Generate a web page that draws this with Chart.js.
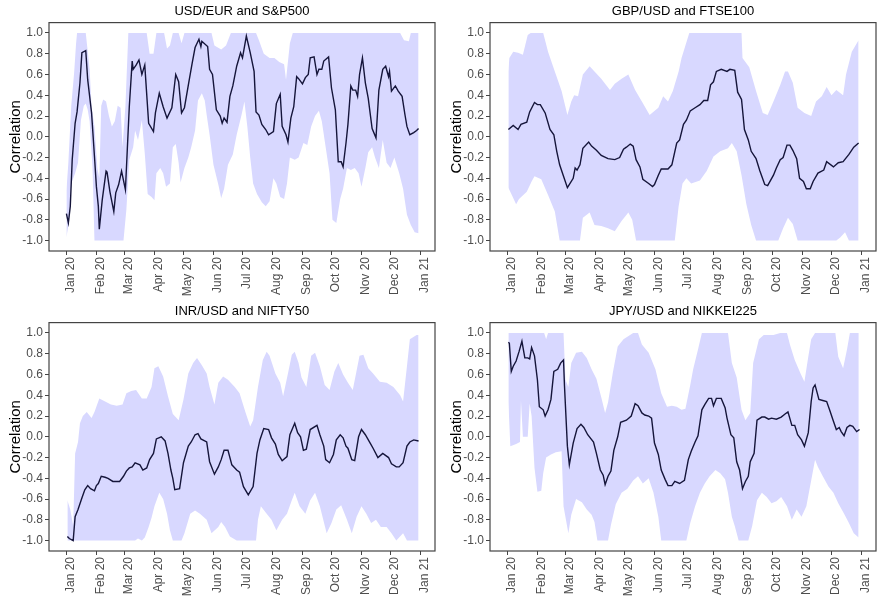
<!DOCTYPE html>
<html>
<head>
<meta charset="utf-8">
<script src="https://cdn.jsdelivr.net/npm/chart.js@4.4.0/dist/chart.umd.min.js"></script>
<style>
  body { margin: 0; background: #fff; }
  #grid { display: grid; grid-template-columns: 441px 441px; grid-template-rows: 300px 300px; width: 882px; height: 600px; }
  canvas { display: block; }
</style>
</head>
<body>
<div id="grid">
  <canvas id="c1" width="441" height="300"></canvas>
  <canvas id="c2" width="441" height="300"></canvas>
  <canvas id="c3" width="441" height="300"></canvas>
  <canvas id="c4" width="441" height="300"></canvas>
</div>
<script>
// Axis labels: day of year 2020 where each month starts
const monthStartDays = [0, 31, 60, 91, 121, 152, 182, 213, 244, 274, 305, 335, 366];
const monthLabels = ['Jan 20', 'Feb 20', 'Mar 20', 'Apr 20', 'May 20', 'Jun 20', 'Jul 20', 'Aug 20', 'Sep 20', 'Oct 20', 'Nov 20', 'Dec 20', 'Jan 21'];
const yTicks = [-1.0, -0.8, -0.6, -0.4, -0.2, 0.0, 0.2, 0.4, 0.6, 0.8, 1.0];

const titles = ['USD/EUR and S&P500', 'GBP/USD and FTSE100', 'INR/USD and NIFTY50', 'JPY/USD and NIKKEI225'];

// [day, correlation]
const usdEurCorr = [[0,-0.74],[2,-0.83],[4,-0.67],[6,-0.22],[9,0.13],[11,0.24],[14,0.52],[16,0.81],[20,0.83],[22,0.55],[26,0.23],[29,-0.19],[31,-0.48],[33,-0.67],[34,-0.89],[37,-0.61],[41,-0.33],[42,-0.34],[45,-0.53],[49,-0.72],[51,-0.54],[54,-0.46],[57,-0.33],[61,-0.51],[65,0.29],[68,0.73],[69,0.65],[72,0.69],[75,0.74],[78,0.60],[81,0.69],[85,0.13],[90,0.05],[92,0.23],[96,0.42],[100,0.29],[104,0.18],[109,0.28],[113,0.60],[116,0.53],[119,0.23],[122,0.28],[127,0.55],[130,0.71],[133,0.86],[137,0.94],[139,0.87],[140,0.92],[146,0.87],[148,0.65],[151,0.60],[155,0.26],[159,0.20],[161,0.13],[163,0.18],[166,0.14],[169,0.39],[172,0.49],[176,0.68],[180,0.81],[182,0.76],[186,0.97],[190,0.81],[194,0.63],[196,0.24],[199,0.21],[202,0.12],[206,0.07],[209,0.02],[214,0.05],[217,0.32],[221,0.41],[223,0.10],[227,0.02],[229,-0.05],[232,0.18],[235,0.29],[238,0.58],[240,0.56],[244,0.51],[247,0.57],[250,0.60],[252,0.76],[256,0.77],[259,0.60],[261,0.65],[264,0.65],[266,0.73],[271,0.77],[274,0.47],[278,0.26],[281,-0.24],[284,-0.24],[286,-0.29],[289,-0.06],[291,0.12],[294,0.49],[296,0.45],[299,0.45],[301,0.39],[303,0.60],[306,0.76],[309,0.52],[312,0.37],[316,0.08],[320,-0.01],[323,0.45],[327,0.65],[330,0.68],[333,0.58],[334,0.63],[336,0.44],[340,0.49],[343,0.44],[347,0.39],[350,0.21],[352,0.10],[355,0.02],[359,0.04],[362,0.06],[364,0.08]];
const usdEurUpper = [[0,-0.52],[2,-0.25],[5,0.3],[8,0.62],[10,0.9],[11,1.0],[20,1.0],[24,0.65],[26,0.29],[29,0.1],[32,-0.3],[34,-0.4],[36,0.3],[38,0.36],[41,0.34],[44,0.2],[47,0.1],[50,0.15],[53,0.3],[56,0.28],[58,-0.1],[61,0.3],[64,1.0],[83,1.0],[86,0.8],[90,0.8],[93,1.0],[101,1.0],[104,0.85],[107,0.88],[110,1.0],[116,1.0],[119,0.9],[122,1.0],[150,1.0],[153,0.88],[160,0.84],[165,0.88],[170,1.0],[196,1.0],[199,0.93],[204,0.8],[210,0.76],[215,0.76],[220,0.72],[225,0.7],[227,0.55],[231,0.9],[234,1.0],[345,1.0],[349,0.93],[354,0.92],[356,1.0],[364,1.0]];
const usdEurLower = [[0,-0.97],[3,-0.8],[5,-0.45],[9,-0.35],[12,-0.25],[15,0.16],[18,0.3],[20,0.32],[22,0.26],[24,0.15],[27,-0.3],[29,-1.0],[59,-1.0],[62,-0.7],[65,-0.22],[69,-0.1],[71,0.06],[74,-0.03],[78,0.16],[81,-0.16],[84,-0.55],[88,-0.58],[91,-0.61],[93,-0.35],[97,-0.3],[100,-0.35],[103,-0.48],[107,-0.45],[110,-0.1],[113,-0.07],[116,-0.25],[118,-0.44],[122,-0.3],[126,-0.2],[129,-0.1],[133,0.06],[136,0.35],[140,0.42],[143,0.35],[145,0.21],[148,0.02],[152,-0.27],[157,-0.46],[160,-0.59],[163,-0.5],[167,-0.27],[172,-0.17],[176,0.02],[181,0.21],[184,0.34],[187,0.1],[190,-0.2],[193,-0.45],[197,-0.55],[202,-0.63],[206,-0.67],[210,-0.62],[214,-0.4],[217,-0.45],[221,-0.58],[225,-0.6],[228,-0.45],[231,-0.2],[236,-0.22],[240,-0.2],[245,-0.06],[249,-0.08],[253,0.1],[257,0.2],[261,0.25],[264,0.15],[268,-0.1],[272,-0.35],[275,-0.8],[279,-0.83],[283,-0.6],[286,-0.5],[290,-0.3],[294,-0.32],[298,-0.3],[302,-0.35],[305,-0.48],[309,-0.3],[312,-0.15],[316,-0.1],[319,-0.2],[323,-0.3],[327,-0.03],[331,-0.25],[335,-0.3],[339,-0.2],[344,-0.35],[348,-0.5],[352,-0.75],[356,-0.85],[360,-0.92],[364,-0.93]];

const gbpUsdCorr = [[1,0.07],[6,0.11],[11,0.07],[14,0.12],[20,0.14],[23,0.24],[28,0.33],[31,0.31],[34,0.31],[39,0.23],[44,0.07],[48,0.02],[51,-0.14],[54,-0.27],[58,-0.38],[62,-0.49],[68,-0.4],[70,-0.3],[72,-0.32],[75,-0.27],[78,-0.11],[84,-0.05],[87,-0.09],[92,-0.13],[97,-0.18],[104,-0.21],[111,-0.22],[116,-0.2],[120,-0.12],[123,-0.1],[127,-0.07],[130,-0.09],[133,-0.22],[137,-0.29],[140,-0.41],[146,-0.45],[150,-0.48],[152,-0.46],[156,-0.37],[159,-0.31],[166,-0.31],[170,-0.27],[175,-0.06],[178,-0.03],[182,0.12],[185,0.16],[189,0.25],[194,0.28],[199,0.31],[203,0.35],[207,0.35],[210,0.5],[213,0.53],[216,0.63],[221,0.65],[227,0.63],[230,0.65],[235,0.64],[238,0.43],[242,0.36],[245,0.07],[249,-0.03],[252,-0.14],[257,-0.21],[261,-0.33],[266,-0.46],[269,-0.47],[275,-0.37],[278,-0.3],[282,-0.22],[285,-0.2],[289,-0.08],[292,-0.08],[295,-0.13],[299,-0.21],[302,-0.4],[306,-0.43],[309,-0.5],[313,-0.5],[316,-0.43],[321,-0.35],[327,-0.32],[330,-0.24],[337,-0.29],[342,-0.25],[347,-0.24],[353,-0.17],[358,-0.1],[363,-0.06]];
const gbpUsdUpper = [[1,0.63],[2,0.76],[6,0.82],[11,0.81],[16,0.79],[21,0.98],[24,1.0],[37,1.0],[42,0.82],[49,0.63],[56,0.44],[62,0.21],[66,0.34],[69,0.4],[73,0.39],[78,0.6],[85,0.68],[90,0.63],[97,0.56],[106,0.45],[111,0.51],[118,0.56],[125,0.6],[132,0.45],[139,0.34],[147,0.21],[156,0.28],[161,0.39],[166,0.34],[171,0.44],[177,0.63],[180,0.76],[184,0.88],[188,1.0],[242,1.0],[243,0.76],[250,0.67],[257,0.44],[264,0.23],[269,0.21],[275,0.34],[282,0.5],[287,0.63],[290,0.63],[295,0.52],[300,0.28],[307,0.23],[314,0.2],[319,0.34],[325,0.39],[330,0.48],[335,0.4],[340,0.45],[347,0.4],[350,0.6],[356,0.82],[363,0.93]];
const gbpUsdLower = [[1,-0.49],[6,-0.59],[9,-0.65],[12,-0.6],[20,-0.53],[25,-0.43],[28,-0.38],[35,-0.41],[42,-0.56],[49,-0.72],[54,-1.0],[75,-1.0],[78,-0.78],[85,-0.73],[90,-0.85],[97,-0.86],[104,-0.88],[111,-0.91],[118,-0.81],[125,-0.73],[129,-0.8],[133,-1.0],[173,-1.0],[177,-0.67],[181,-0.45],[185,-0.4],[190,-0.45],[199,-0.42],[206,-0.33],[213,-0.19],[220,-0.14],[228,-0.11],[232,-0.06],[237,-0.14],[242,-0.37],[247,-0.65],[252,-0.85],[257,-1.0],[280,-1.0],[285,-0.88],[290,-0.78],[295,-0.84],[300,-1.0],[340,-1.0],[344,-0.97],[349,-0.92],[353,-1.0],[364,-1.0]];

const inrUsdCorr = [[1,-0.96],[3,-0.98],[7,-1.0],[9,-0.77],[12,-0.7],[16,-0.59],[19,-0.51],[22,-0.47],[25,-0.5],[29,-0.52],[31,-0.47],[33,-0.45],[36,-0.38],[40,-0.39],[43,-0.4],[48,-0.43],[55,-0.43],[59,-0.38],[62,-0.33],[65,-0.3],[68,-0.29],[71,-0.25],[76,-0.27],[79,-0.32],[83,-0.3],[86,-0.22],[90,-0.16],[93,-0.02],[98,0.0],[102,-0.04],[105,-0.16],[108,-0.32],[110,-0.4],[112,-0.51],[117,-0.5],[121,-0.25],[126,-0.09],[129,-0.05],[133,0.02],[136,0.03],[139,-0.02],[145,-0.05],[148,-0.24],[153,-0.36],[157,-0.29],[160,-0.22],[163,-0.13],[167,-0.13],[171,-0.27],[176,-0.32],[179,-0.34],[183,-0.48],[188,-0.56],[193,-0.48],[197,-0.16],[200,-0.03],[204,0.08],[209,0.07],[212,-0.01],[216,-0.07],[219,-0.17],[223,-0.23],[228,-0.19],[231,0.02],[236,0.13],[239,0.04],[242,0.0],[245,-0.13],[248,-0.12],[252,0.07],[259,0.11],[262,0.02],[266,-0.09],[268,-0.22],[272,-0.25],[276,-0.17],[279,-0.03],[283,0.02],[286,-0.01],[289,-0.09],[291,-0.11],[295,-0.22],[298,-0.23],[302,0.0],[305,0.07],[309,0.02],[314,-0.06],[317,-0.11],[322,-0.2],[327,-0.16],[333,-0.2],[336,-0.26],[341,-0.29],[344,-0.29],[348,-0.25],[352,-0.09],[355,-0.05],[359,-0.03],[364,-0.04]];
const inrUsdUpper = [[1,-0.61],[4,-0.7],[7,-0.86],[9,-0.16],[12,-0.05],[14,0.13],[17,0.2],[21,0.24],[26,0.18],[29,0.24],[34,0.37],[40,0.34],[46,0.31],[52,0.3],[58,0.31],[62,0.42],[67,0.44],[72,0.45],[78,0.37],[83,0.37],[88,0.48],[91,0.66],[95,0.68],[100,0.58],[105,0.39],[110,0.22],[116,0.16],[121,0.36],[126,0.61],[131,0.71],[135,0.76],[140,0.69],[145,0.61],[148,0.48],[153,0.31],[157,0.52],[162,0.58],[167,0.55],[174,0.48],[179,0.42],[185,0.24],[190,0.1],[193,0.16],[198,0.48],[203,0.74],[207,0.82],[210,0.78],[216,0.61],[221,0.52],[224,0.39],[229,0.61],[233,0.79],[236,0.82],[240,0.71],[243,0.57],[248,0.48],[253,0.78],[257,0.81],[262,0.68],[267,0.5],[272,0.45],[277,0.63],[281,0.71],[286,0.6],[291,0.52],[296,0.45],[303,0.78],[307,0.79],[312,0.66],[317,0.61],[324,0.53],[331,0.52],[338,0.48],[345,0.4],[348,0.34],[352,0.68],[355,0.94],[362,0.98],[364,0.98]];
const inrUsdLower = [[1,-1.0],[71,-1.0],[74,-0.98],[78,-1.0],[81,-0.97],[85,-0.87],[88,-0.78],[91,-0.67],[96,-0.54],[100,-0.6],[104,-0.74],[107,-0.9],[110,-1.0],[119,-1.0],[122,-0.93],[128,-0.74],[133,-0.71],[138,-0.74],[145,-0.8],[150,-0.93],[157,-0.87],[160,-0.82],[164,-0.87],[169,-0.96],[176,-1.0],[196,-1.0],[198,-0.8],[201,-0.67],[207,-0.74],[212,-0.8],[217,-0.9],[223,-0.8],[228,-0.74],[233,-0.61],[236,-0.54],[241,-0.67],[247,-0.74],[252,-0.61],[257,-0.54],[262,-0.67],[269,-0.93],[274,-0.83],[279,-0.7],[284,-0.66],[290,-0.8],[295,-0.93],[300,-0.77],[305,-0.67],[310,-0.74],[315,-0.83],[320,-0.8],[325,-0.87],[331,-0.87],[336,-0.93],[341,-1.0],[348,-0.93],[352,-1.0],[364,-1.0]];

const jpyUsdCorr = [[1,0.91],[2,0.9],[4,0.63],[6,0.68],[9,0.73],[12,0.82],[15,0.92],[18,0.76],[21,0.76],[23,0.75],[25,0.86],[28,0.78],[31,0.55],[33,0.29],[37,0.26],[39,0.2],[42,0.26],[45,0.36],[48,0.63],[52,0.65],[55,0.71],[58,0.74],[59,0.49],[62,-0.09],[64,-0.27],[68,-0.06],[72,0.08],[76,0.12],[79,0.09],[83,0.02],[89,-0.05],[92,-0.16],[96,-0.32],[99,-0.37],[101,-0.46],[104,-0.38],[107,-0.33],[110,-0.13],[114,0.0],[117,0.14],[123,0.16],[128,0.2],[132,0.32],[135,0.3],[139,0.23],[142,0.21],[146,0.2],[149,0.18],[152,-0.06],[156,-0.17],[159,-0.32],[163,-0.41],[166,-0.47],[170,-0.47],[173,-0.43],[178,-0.45],[183,-0.42],[187,-0.22],[190,-0.14],[194,-0.05],[197,0.01],[201,0.26],[204,0.31],[208,0.37],[211,0.37],[213,0.3],[216,0.37],[221,0.37],[225,0.28],[227,0.18],[231,0.02],[234,-0.01],[237,-0.24],[240,-0.32],[243,-0.5],[246,-0.43],[249,-0.38],[251,-0.24],[255,-0.16],[258,0.16],[263,0.19],[266,0.19],[270,0.17],[273,0.18],[278,0.17],[283,0.19],[287,0.22],[290,0.24],[294,0.11],[297,0.11],[300,0.02],[304,-0.03],[307,-0.09],[311,0.04],[314,0.34],[316,0.47],[318,0.5],[322,0.36],[326,0.35],[330,0.34],[333,0.26],[337,0.15],[340,0.07],[343,0.09],[345,0.05],[348,0.01],[351,0.09],[354,0.11],[357,0.1],[361,0.05],[364,0.07]];
const jpyUsdUpper = [[1,1.0],[38,1.0],[40,0.94],[42,1.0],[58,1.0],[60,0.55],[63,0.48],[66,0.71],[71,0.81],[77,0.82],[82,0.76],[87,0.65],[92,0.56],[97,0.38],[101,0.23],[104,0.33],[109,0.62],[114,0.87],[120,0.94],[130,1.0],[135,1.0],[139,0.89],[146,0.81],[153,0.65],[159,0.42],[165,0.29],[170,0.3],[175,0.29],[180,0.26],[184,0.27],[189,0.5],[192,0.65],[197,0.84],[201,1.0],[228,1.0],[232,0.71],[237,0.57],[242,0.26],[246,0.16],[251,0.23],[254,0.71],[260,0.94],[265,0.98],[275,0.98],[282,1.0],[289,1.0],[292,0.89],[297,0.74],[303,0.61],[307,0.53],[311,0.77],[314,0.94],[318,1.0],[339,1.0],[342,0.77],[347,0.66],[351,0.84],[354,1.0],[364,1.0]];
const jpyUsdLower = [[1,0.34],[3,-0.09],[9,-0.07],[13,-0.05],[14,0.35],[16,0.0],[21,0.0],[23,0.32],[25,0.2],[28,-0.3],[31,-0.53],[35,-0.52],[37,-0.35],[40,-0.2],[45,-0.17],[50,-0.15],[56,-0.14],[58,-0.67],[63,-0.93],[66,-0.75],[71,-0.6],[77,-0.63],[82,-0.7],[87,-0.75],[90,-0.82],[93,-1.0],[104,-1.0],[107,-0.85],[112,-0.65],[118,-0.54],[124,-0.5],[130,-0.42],[135,-0.38],[140,-0.45],[146,-0.4],[151,-0.54],[156,-0.77],[159,-1.0],[185,-1.0],[189,-0.83],[194,-0.67],[199,-0.54],[204,-0.45],[209,-0.38],[215,-0.32],[220,-0.35],[225,-0.41],[228,-0.54],[232,-0.77],[235,-0.86],[239,-1.0],[249,-1.0],[253,-0.86],[258,-0.61],[263,-0.54],[268,-0.58],[273,-0.64],[278,-0.62],[283,-0.58],[289,-0.67],[294,-0.8],[299,-0.7],[304,-0.77],[309,-0.67],[314,-0.42],[318,-0.22],[321,-0.29],[326,-0.38],[332,-0.48],[337,-0.54],[342,-0.64],[348,-0.74],[353,-0.83],[358,-0.93],[363,-0.97]];

const bandColor = 'rgb(216, 216, 255)';
const lineColor = '#15153a';
const tickColor = '#4d4d4d';
const fontFamily = '"Liberation Sans", Arial, Helvetica, sans-serif';

// Box around the panel, like the ggplot border
const panelBox = {
    id: 'panelBox',
    afterDraw(chart) {
        const a = chart.chartArea;
        const ctx = chart.ctx;
        ctx.save();
        ctx.strokeStyle = '#444';
        ctx.lineWidth = 1.2;
        ctx.strokeRect(a.left, a.top, a.right - a.left, a.bottom - a.top);
        ctx.restore();
    }
};

function toPoints(pairs) {
    return pairs.map(p => ({ x: p[0], y: p[1] }));
}

function makePanel(id, title, corr, upper, lower) {
    const ctx = document.getElementById(id).getContext('2d');
    return new Chart(ctx, {
        type: 'line',
        data: {
            datasets: [
                { data: toPoints(corr), borderColor: lineColor, borderWidth: 1.4, pointRadius: 0, fill: false, tension: 0 },
                { data: toPoints(upper), borderWidth: 0, borderColor: bandColor, backgroundColor: bandColor, pointRadius: 0, fill: '+1', tension: 0 },
                { data: toPoints(lower), borderWidth: 0, borderColor: bandColor, backgroundColor: bandColor, pointRadius: 0, fill: false, tension: 0 }
            ]
        },
        options: {
            responsive: false,
            animation: false,
            layout: { padding: { left: 0, right: 6, top: 0, bottom: 0 } },
            plugins: {
                legend: { display: false },
                tooltip: { enabled: false },
                title: {
                    display: true,
                    text: title,
                    fullSize: false,
                    color: '#000',
                    font: { family: fontFamily, size: 13, weight: 'normal' },
                    padding: { top: 4, bottom: 3 }
                }
            },
            scales: {
                x: {
                    type: 'linear',
                    min: -18,
                    max: 381,
                    afterBuildTicks: s => { s.ticks = monthStartDays.map(v => ({ value: v })); },
                    afterFit: s => { s.height = 49; },
                    ticks: {
                        autoSkip: false,
                        minRotation: 90,
                        maxRotation: 90,
                        padding: 2,
                        labelOffset: 4,
                        color: tickColor,
                        font: { family: fontFamily, size: 12 },
                        callback: v => monthLabels[monthStartDays.indexOf(v)]
                    },
                    grid: { drawOnChartArea: false, drawTicks: true, tickLength: 4, color: '#444' },
                    border: { display: false }
                },
                y: {
                    min: -1.1,
                    max: 1.1,
                    afterBuildTicks: s => { s.ticks = yTicks.map(v => ({ value: v })); },
                    afterFit: s => { s.width = 49; },
                    ticks: {
                        padding: 2,
                        color: tickColor,
                        font: { family: fontFamily, size: 12 },
                        callback: v => v.toFixed(1)
                    },
                    grid: { drawOnChartArea: false, drawTicks: true, tickLength: 4, color: '#444' },
                    border: { display: false },
                    title: {
                        display: true,
                        text: 'Correlation',
                        color: '#000',
                        font: { family: fontFamily, size: 15 },
                        padding: { top: 7, bottom: 0 }
                    }
                }
            }
        },
        plugins: [panelBox]
    });
}

makePanel('c1', titles[0], usdEurCorr, usdEurUpper, usdEurLower);
makePanel('c2', titles[1], gbpUsdCorr, gbpUsdUpper, gbpUsdLower);
makePanel('c3', titles[2], inrUsdCorr, inrUsdUpper, inrUsdLower);
makePanel('c4', titles[3], jpyUsdCorr, jpyUsdUpper, jpyUsdLower);
</script>
</body>
</html>
